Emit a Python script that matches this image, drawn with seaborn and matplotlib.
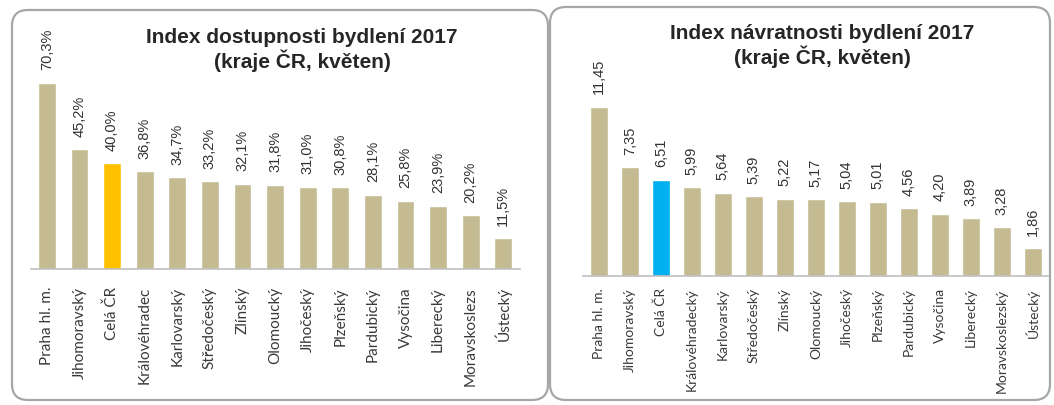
import matplotlib
matplotlib.use("Agg")
import matplotlib.pyplot as plt
import seaborn as sns
from matplotlib.patches import FancyBboxPatch

left_categories = ["Praha hl. m.", "Jihomoravský", "Celá ČR", "Královéhradec", "Karlovarský",
                   "Středočeský", "Zlínský", "Olomoucký", "Jihočeský", "Plzeňský",
                   "Pardubický", "Vysočina", "Liberecký", "Moravskoslezs", "Ústecký"]
left_values = [70.3, 45.2, 40.0, 36.8, 34.7, 33.2, 32.1, 31.8, 31.0, 30.8, 28.1, 25.8, 23.9, 20.2, 11.5]
left_title = "Index dostupnosti bydlení 2017\n(kraje ČR, květen)"

right_categories = ["Praha hl. m.", "Jihomoravský", "Celá ČR", "Královéhradecký", "Karlovarský",
                    "Středočeský", "Zlínský", "Olomoucký", "Jihočeský", "Plzeňský",
                    "Pardubický", "Vysočina", "Liberecký", "Moravskoslezský", "Ústecký"]
right_values = [11.45, 7.35, 6.51, 5.99, 5.64, 5.39, 5.22, 5.17, 5.04, 5.01, 4.56, 4.20, 3.89, 3.28, 1.86]
right_title = "Index návratnosti bydlení 2017\n(kraje ČR, květen)"

TAN = "#C4BB93"
GOLD = "#FFC000"
BLUE = "#00B0F0"

sns.set_theme(style="white")
plt.rcParams['font.family'] = ['Liberation Sans', 'DejaVu Sans']

fig = plt.figure(figsize=(10.54, 4.05), dpi=100)
fig.patch.set_facecolor("white")

# panel frames
for (x0, y0, w, h) in [(0.12, 0.05, 5.36, 3.90), (5.50, 0.05, 5.00, 3.93)]:
    fig.patches.append(FancyBboxPatch((x0, y0), w, h,
                                      boxstyle="round,pad=0,rounding_size=0.16",
                                      transform=fig.dpi_scale_trans,
                                      facecolor="none", edgecolor="#A6A6A6", linewidth=1.6))


def panel(rect, cats, vals, hl_color, fmt, ymax, bar_w, title, title_xy, tick_pad, tick_fs):
    ax = fig.add_axes(rect)
    colors = [hl_color if c == "Celá ČR" else TAN for c in cats]
    sns.barplot(x=cats, y=vals, hue=cats, palette=colors, legend=False,
                width=bar_w, ax=ax, saturation=1)
    ax.set_xlim(-0.5, len(cats) - 0.5)
    ax.set_ylim(0, ymax)
    ax.set_yticks([])
    ax.set_xlabel("")
    ax.set_ylabel("")
    for s in ["top", "right", "left"]:
        ax.spines[s].set_visible(False)
    ax.spines["bottom"].set_color("#BFBFBF")
    ax.spines["bottom"].set_linewidth(1.2)
    ax.tick_params(axis="x", length=0, pad=tick_pad)
    ax.set_xticks(range(len(cats)))
    ax.set_xticklabels(cats, rotation=90, fontsize=tick_fs, color="#3A3A3A",
                       family=["Lato", "DejaVu Sans"])
    ax.patch.set_alpha(0)
    for i, v in enumerate(vals):
        ax.annotate(fmt(v), (i, v), xytext=(0, 9), textcoords="offset points",
                    rotation=90, ha="center", va="bottom", fontsize=10.5,
                    color="#333333", annotation_clip=False)
    fig.text(title_xy[0], title_xy[1], title, ha="center", va="center",
             fontsize=15, fontweight="bold", color="#262626", linespacing=1.15)
    return ax


panel([0.029, 0.336, 0.464, 0.523], left_categories, left_values, GOLD,
      lambda v: f"{v:.1f}%".replace(".", ","), 80, 0.55, left_title,
      (302 / 1054, 1 - 50 / 405), 13, 11)

panel([0.5536, 0.319, 0.441, 0.474], right_categories, right_values, BLUE,
      lambda v: f"{v:.2f}".replace(".", ","), 13, 0.58, right_title,
      (822 / 1054, 1 - 46 / 405), 9, 10)

fig.savefig("out.png", dpi=100, facecolor="white")
